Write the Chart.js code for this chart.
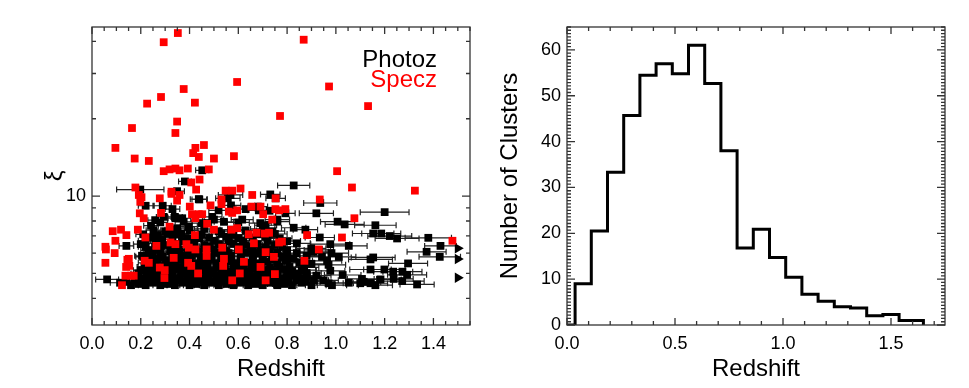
<!DOCTYPE html>
<html>
<head>
<meta charset="utf-8">
<script src="https://cdn.jsdelivr.net/npm/chart.js@4.4.0/dist/chart.umd.min.js"></script>
<style>
  body { margin: 0; background: #fff; width: 969px; height: 388px; position: relative; overflow: hidden; }
  canvas { position: absolute; top: 0; }
  #left { left: 0; }
  #right { left: 484px; }
</style>
</head>
<body>
<canvas id="left" width="484" height="388"></canvas>
<canvas id="right" width="485" height="388"></canvas>
<script>
// spectroscopic redshifts: [z, xi]
const specz = [
  [0.352,43.1],[0.294,39.7],[0.595,27.8],[0.376,26.1],[0.283,24.3],[0.226,22.9],[0.422,23.1],[0.771,20.5],
  [0.349,19.5],[0.164,18.4],[0.342,17.6],[0.096,15.4],[0.459,15.8],[0.424,15.4],[0.415,14.7],[0.438,14.2],
  [0.175,14.0],[0.233,13.7],[0.5,14.0],[0.582,14.3],[0.294,12.5],[0.318,12.7],[0.342,12.8],[0.359,12.6],
  [0.393,12.8],[0.479,12.7],[0.441,11.6],[0.407,11.3],[0.178,10.8],[0.427,10.6],[0.326,10.4],[0.548,10.5],
  [0.575,10.5],[0.609,10.7],[0.868,40.6],[0.972,26.7],[1.132,22.4],[1.005,12.5],[1.066,10.8],[1.324,10.5],
  [0.192,10.1],[0.203,9.9],[0.198,9.5],[0.278,9.8],[0.326,10.2],[0.359,10.1],[0.349,9.6],[0.486,9.2],
  [0.401,9.1],[0.531,9.7],[0.531,9.3],[0.657,10.1],[0.753,9.8],[0.691,9.1],[0.196,8.57],[0.212,8.2],
  [0.283,8.6],[0.424,8.2],[0.452,8.5],[0.41,8.5],[0.438,8.5],[0.472,7.8],[0.561,8.7],[0.595,8.8],
  [0.575,8.6],[0.654,9.1],[0.702,8.5],[0.739,8.1],[0.767,8.8],[0.085,7.3],[0.119,7.4],[0.141,7.05],
  [0.096,6.7],[0.188,7.4],[0.219,6.9],[0.264,6.4],[0.055,6.35],[0.057,6.2],[0.093,6.0],[0.055,5.5],
  [0.151,5.7],[0.153,5.35],[0.318,7.6],[0.322,6.6],[0.342,6.5],[0.387,6.5],[0.397,6.3],[0.422,7.05],
  [0.424,6.2],[0.5,7.4],[0.47,6.2],[0.534,6.3],[0.572,7.4],[0.595,7.5],[0.643,7.1],[0.675,7.2],
  [0.709,7.15],[0.726,7.2],[0.664,6.55],[0.767,6.6],[0.335,5.75],[0.394,5.5],[0.407,5.35],[0.47,5.85],
  [0.541,5.7],[0.602,6.2],[0.623,5.55],[0.712,6.05],[0.746,5.8],[0.691,5.3],[0.538,5.35],[0.216,5.6],
  [0.233,5.5],[0.278,5.27],[0.298,5.15],[0.137,4.9],[0.16,4.9],[0.171,4.9],[0.123,4.5],[0.297,4.8],
  [0.435,5.0],[0.606,5.0],[0.575,4.7],[0.712,4.7],[0.75,4.97],[0.793,8.9],[1.076,8.2],[1.025,6.9],
  [0.882,7.05],[0.93,6.2],[0.871,5.6],[1.478,6.7],[0.934,9.7],[0.752,8.9],[0.779,6.65],[0.14,5.3],
  [0.145,5.65]
];

// photometric redshifts: [z, xi, z error]
const photoz = [
  [0.452,12.6,0.027],[0.381,11.4,0.026],[0.198,10.6,0.097],[0.349,10.45,0.03],[0.827,11.0,0.066],
  [0.438,9.73,0.035],[0.557,9.8,0.05],[0.568,10.1,0.05],[0.731,10.15,0.04],[0.753,9.8,0.04],
  [0.22,9.17,0.03],[0.29,9.17,0.035],[0.33,8.9,0.03],[0.34,8.3,0.03],[0.37,8.2,0.035],[0.44,9.7,0.03],
  [0.519,8.8,0.04],[0.57,9.2,0.04],[0.63,8.9,0.04],[0.68,9.1,0.04],[0.728,8.77,0.045],[0.793,8.57,0.04],
  [0.92,8.57,0.07],[0.936,9.4,0.068],[0.875,7.4,0.05],[0.934,6.9,0.06],
  [0.259,8.06,0.03],[0.242,7.67,0.03],[0.252,7.37,0.03],[0.27,7.05,0.03],[0.288,6.8,0.03],
  [0.294,8.3,0.03],[0.342,8.2,0.03],[0.376,7.94,0.035],[0.329,7.4,0.03],[0.349,7.5,0.03],[0.367,7.15,0.03],
  [0.397,7.6,0.035],[0.39,6.85,0.035],[0.493,8.3,0.04],[0.5,8.1,0.04],[0.541,7.94,0.04],[0.616,8.1,0.045],
  [0.684,8.8,0.045],[0.712,7.7,0.045],[0.76,8.1,0.05],
  [0.141,6.4,0.03],[0.205,5.86,0.03],[0.253,5.35,0.03],[0.062,4.74,0.047],[0.115,4.6,0.04],
  [1.2,8.66,0.1],[1.007,7.95,0.07],[1.036,7.76,0.08],[1.162,7.7,0.085],[0.827,7.53,0.05],[1.153,7.15,0.085],
  [1.186,7.15,0.08],[1.221,6.99,0.09],[1.251,6.84,0.09],[1.379,6.88,0.095],[1.429,6.4,0.065],
  [0.977,6.5,0.08],[1.053,6.4,0.075],[1.372,6.07,0.08],[1.426,5.8,0.085],[1.142,5.67,0.09],[1.153,5.77,0.09],
  [0.899,6.26,0.06],[0.909,6.07,0.06],[0.93,6.17,0.06],[1.296,5.47,0.08],[1.142,5.18,0.085],[1.199,5.18,0.085],
  [1.235,5.08,0.08],[1.273,5.08,0.08],[1.292,4.94,0.08],[1.183,4.74,0.085],[1.237,4.76,0.08],[1.272,4.67,0.09],
  [1.333,4.53,0.07],[1.107,4.76,0.06],[1.114,4.64,0.07],[1.1,4.58,0.07],[1.053,4.6,0.06],[1.142,4.58,0.07],
  [1.162,4.5,0.07],[0.984,4.5,0.06],[0.97,4.58,0.06],[0.95,4.7,0.06],[1.028,4.93,0.075],[0.977,5.12,0.06],
  [1.012,5.8,0.07],[0.97,5.4,0.07],[0.943,5.8,0.06],[0.964,5.6,0.06],[0.826,5.7,0.05],[0.793,5.6,0.05],
  [0.8,5.9,0.05],[0.982,6.0,0.07],
  [0.16,4.5,0.03],[0.19,4.55,0.03],[0.22,4.5,0.03],[0.25,4.6,0.035],[0.28,4.5,0.03],[0.31,4.55,0.035],
  [0.34,4.5,0.035],[0.37,4.6,0.035],[0.4,4.5,0.04],[0.43,4.55,0.035],[0.46,4.5,0.04],[0.49,4.6,0.04],
  [0.52,4.5,0.04],[0.55,4.55,0.045],[0.58,4.5,0.04],[0.61,4.6,0.045],[0.64,4.5,0.045],[0.67,4.55,0.05],
  [0.7,4.5,0.045],[0.73,4.6,0.05],[0.76,4.5,0.05],[0.79,4.55,0.05],[0.82,4.5,0.055],[0.86,4.6,0.06],[0.9,4.5,0.06],
  [0.14,4.65,0.03],[0.175,4.7,0.03],[0.205,4.65,0.03],[0.235,4.7,0.035],[0.265,4.65,0.03],[0.295,4.7,0.035],
  [0.325,4.65,0.035],[0.355,4.7,0.035],[0.385,4.65,0.04],[0.415,4.7,0.035],[0.445,4.65,0.04],[0.475,4.7,0.04],
  [0.505,4.65,0.04],[0.535,4.7,0.045],[0.565,4.65,0.04],[0.595,4.7,0.045],[0.625,4.65,0.045],[0.655,4.7,0.05],
  [0.685,4.65,0.045],[0.715,4.7,0.05],[0.745,4.65,0.05],[0.775,4.7,0.05],[0.805,4.65,0.055],[0.84,4.7,0.06],
  [0.875,4.65,0.06],[0.91,4.7,0.06],
  [0.18,4.85,0.03],[0.21,4.8,0.03],[0.24,4.9,0.03],[0.27,4.8,0.035],[0.3,4.85,0.035],[0.33,4.9,0.03],
  [0.36,4.8,0.035],[0.39,4.85,0.04],[0.42,4.9,0.035],[0.45,4.8,0.04],[0.48,4.85,0.04],[0.51,4.9,0.045],
  [0.54,4.8,0.04],[0.57,4.85,0.045],[0.6,4.9,0.045],[0.63,4.8,0.05],[0.66,4.85,0.045],[0.69,4.9,0.05],
  [0.72,4.8,0.05],[0.75,4.85,0.05],[0.78,4.8,0.055],[0.81,4.9,0.05],[0.85,4.8,0.06],[0.88,4.85,0.06],[0.92,4.9,0.06],
  [0.19,5.0,0.03],[0.225,5.02,0.03],[0.26,4.98,0.035],[0.29,5.02,0.03],[0.325,5.0,0.035],[0.365,5.02,0.035],
  [0.4,4.98,0.04],[0.435,5.02,0.035],[0.47,5.0,0.04],[0.5,5.02,0.04],[0.54,4.98,0.045],[0.575,5.02,0.04],
  [0.61,5.0,0.045],[0.645,5.02,0.045],[0.68,4.98,0.05],[0.72,5.02,0.05],[0.76,5.0,0.05],[0.8,5.02,0.055],
  [0.84,4.98,0.055],[0.88,5.02,0.06],
  [0.2,5.15,0.03],[0.24,5.2,0.03],[0.31,5.1,0.035],[0.35,5.2,0.035],[0.38,5.1,0.035],[0.42,5.2,0.04],
  [0.46,5.15,0.04],[0.49,5.1,0.04],[0.53,5.2,0.045],[0.56,5.1,0.04],[0.6,5.2,0.045],[0.63,5.1,0.05],
  [0.67,5.2,0.045],[0.71,5.15,0.05],[0.74,5.1,0.05],[0.78,5.2,0.055],[0.82,5.1,0.05],[0.86,5.15,0.06],
  [0.215,5.3,0.03],[0.25,5.32,0.03],[0.285,5.28,0.035],[0.33,5.32,0.035],[0.365,5.3,0.035],[0.4,5.28,0.04],
  [0.44,5.32,0.04],[0.475,5.3,0.04],[0.51,5.28,0.045],[0.545,5.32,0.04],[0.58,5.3,0.045],[0.62,5.28,0.045],
  [0.655,5.32,0.05],[0.69,5.3,0.045],[0.73,5.28,0.05],[0.77,5.32,0.05],[0.81,5.3,0.055],[0.87,5.28,0.06],
  [0.22,5.5,0.03],[0.26,5.45,0.03],[0.3,5.5,0.035],[0.34,5.45,0.035],[0.38,5.55,0.035],[0.43,5.45,0.04],
  [0.47,5.5,0.04],[0.51,5.45,0.045],[0.55,5.55,0.04],[0.59,5.45,0.045],[0.64,5.5,0.05],[0.68,5.45,0.045],
  [0.72,5.55,0.05],[0.76,5.45,0.05],[0.85,5.5,0.06],[0.9,5.45,0.06],
  [0.235,5.65,0.03],[0.27,5.68,0.035],[0.315,5.62,0.035],[0.355,5.68,0.035],[0.4,5.65,0.04],[0.445,5.62,0.04],
  [0.49,5.68,0.04],[0.53,5.65,0.045],[0.57,5.62,0.045],[0.61,5.68,0.045],[0.66,5.65,0.05],[0.7,5.62,0.05],
  [0.74,5.68,0.05],[0.8,5.65,0.055],
  [0.21,5.8,0.03],[0.25,5.85,0.03],[0.29,5.8,0.035],[0.33,5.9,0.03],[0.37,5.8,0.035],[0.41,5.85,0.04],
  [0.45,5.8,0.04],[0.49,5.9,0.04],[0.53,5.8,0.045],[0.57,5.85,0.04],[0.61,5.8,0.045],[0.66,5.9,0.05],
  [0.7,5.8,0.05],[0.74,5.85,0.05],[0.78,5.8,0.055],[0.88,5.85,0.06],
  [0.24,6.0,0.03],[0.28,6.02,0.035],[0.35,5.98,0.035],[0.39,6.02,0.035],[0.43,6.0,0.04],[0.47,5.98,0.04],
  [0.52,6.02,0.04],[0.56,6.0,0.045],[0.63,6.02,0.045],[0.67,5.98,0.05],[0.72,6.0,0.05],[0.76,6.02,0.05],[0.84,6.0,0.055],
  [0.23,6.15,0.03],[0.27,6.2,0.03],[0.32,6.1,0.035],[0.36,6.2,0.035],[0.4,6.15,0.035],[0.44,6.1,0.04],
  [0.5,6.2,0.04],[0.55,6.1,0.045],[0.6,6.15,0.045],[0.65,6.2,0.05],[0.69,6.1,0.045],[0.73,6.2,0.05],[0.8,6.15,0.05],
  [0.22,6.35,0.03],[0.28,6.38,0.035],[0.33,6.32,0.035],[0.42,6.35,0.04],[0.48,6.38,0.04],[0.54,6.32,0.045],
  [0.61,6.35,0.045],[0.66,6.38,0.05],[0.71,6.32,0.05],[0.78,6.35,0.055],
  [0.2,6.5,0.03],[0.26,6.55,0.03],[0.3,6.45,0.035],[0.35,6.5,0.035],[0.39,6.55,0.035],[0.46,6.45,0.04],
  [0.52,6.5,0.04],[0.58,6.55,0.045],[0.63,6.45,0.045],[0.68,6.5,0.05],[0.75,6.45,0.05],[0.84,6.55,0.055],
  [0.22,6.7,0.03],[0.27,6.72,0.03],[0.37,6.68,0.035],[0.42,6.72,0.04],[0.5,6.7,0.04],[0.56,6.68,0.045],
  [0.62,6.72,0.045],[0.72,6.7,0.05],[0.8,6.68,0.055],
  [0.24,6.9,0.03],[0.33,6.95,0.03],[0.44,6.85,0.04],[0.48,6.9,0.04],[0.55,6.95,0.04],[0.6,6.85,0.045],
  [0.66,6.9,0.045],[0.71,6.95,0.05],[0.77,6.85,0.05],
  [0.21,7.1,0.03],[0.31,7.12,0.035],[0.36,7.08,0.035],[0.45,7.1,0.04],[0.53,7.12,0.04],[0.58,7.08,0.045],
  [0.68,7.1,0.045],[0.75,7.12,0.05],
  [0.3,7.3,0.03],[0.4,7.35,0.035],[0.46,7.45,0.04],[0.52,7.3,0.04],[0.57,7.4,0.045],[0.63,7.35,0.045],
  [0.7,7.45,0.05],[0.74,7.3,0.05],
  [0.28,7.9,0.03],[0.45,7.85,0.04],[0.6,7.9,0.045],[0.69,7.85,0.045],[0.76,7.95,0.05]
];

// clusters plotted at the right edge (redshift lower limits)
const limitZ = [1.5, 1.5, 1.5];
const limitXi = [6.26, 5.69, 4.81];

const xiTicks = [4, 5, 6, 7, 8, 9, 10, 20, 30, 40];

// histogram of redshifts
const histCenters = [0, 0.075, 0.15, 0.225, 0.3, 0.375, 0.45, 0.525, 0.6, 0.675, 0.75, 0.825,
  0.9, 0.975, 1.05, 1.125, 1.2, 1.275, 1.35, 1.425, 1.5, 1.575, 1.65, 1.65];
const histCounts = [0, 9, 20.5, 33.3, 45.7, 54.5, 57, 54.8, 61, 52.7, 38, 16.8,
  20.9, 14.7, 10.4, 6.7, 5.2, 4.0, 3.7, 2.0, 2.3, 1.0, 1.0, 0];

Chart.defaults.font.family = '"Liberation Sans", Arial, Helvetica, sans-serif';
Chart.defaults.color = '#000';

// box around the plot with inward ticks on all four sides
const framePlugin = {
  id: 'frame',
  afterDatasetsDraw(chart, args, opts) {
    const {ctx, chartArea: a, scales: {x, y}} = chart;
    ctx.save();
    ctx.strokeStyle = '#333';
    ctx.lineWidth = 1.3;
    ctx.strokeRect(a.left, a.top, a.right - a.left, a.bottom - a.top);
    ctx.beginPath();
    opts.xTicks.forEach(([v, major]) => {
      const px = x.getPixelForValue(v), len = major ? 7 : 4;
      ctx.moveTo(px, a.bottom); ctx.lineTo(px, a.bottom - len);
      ctx.moveTo(px, a.top); ctx.lineTo(px, a.top + len);
    });
    opts.yTicks.forEach(([v, major]) => {
      const py = y.getPixelForValue(v), len = major ? 8 : 4;
      ctx.moveTo(a.left, py); ctx.lineTo(a.left + len, py);
      ctx.moveTo(a.right, py); ctx.lineTo(a.right - len, py);
    });
    ctx.stroke();
    ctx.restore();
  }
};

// horizontal error bars for the photo-z points
const errorBarPlugin = {
  id: 'zerr',
  beforeDatasetsDraw(chart) {
    const {ctx, chartArea: a, scales: {x, y}} = chart;
    const ds = chart.data.datasets.find(d => d.label === 'Photoz');
    ctx.save();
    ctx.beginPath();
    ctx.rect(a.left, a.top, a.right - a.left, a.bottom - a.top);
    ctx.clip();
    ctx.strokeStyle = 'rgba(10,10,10,0.9)';
    ctx.lineWidth = 1.2;
    ctx.beginPath();
    ds.data.forEach(p => {
      const x0 = x.getPixelForValue(p.x - p.err), x1 = x.getPixelForValue(p.x + p.err);
      const py = y.getPixelForValue(p.y);
      ctx.moveTo(x0, py); ctx.lineTo(x1, py);
      ctx.moveTo(x0, py - 3); ctx.lineTo(x0, py + 3);
      ctx.moveTo(x1, py - 3); ctx.lineTo(x1, py + 3);
    });
    ctx.stroke();
    ctx.restore();
  }
};

const legendText = {
  id: 'legendText',
  afterDraw(chart) {
    const ctx = chart.ctx;
    ctx.save();
    ctx.font = '24px "Liberation Sans", Arial, sans-serif';
    ctx.textAlign = 'right';
    ctx.textBaseline = 'alphabetic';
    ctx.fillStyle = '#000';
    ctx.fillText('Photoz', 437, 67);
    ctx.fillStyle = '#ff0000';
    ctx.fillText('Specz', 437, 87);
    ctx.restore();
  }
};

const leftX = [];
for (let i = 0; i <= 31; i++) leftX.push([i * 0.05, i % 4 === 0]);
const leftY = xiTicks.map(v => [v, v === 10]);

const noGrid = {display: false, drawTicks: false, tickLength: 0};

new Chart(document.getElementById('left'), {
  type: 'scatter',
  data: {
    datasets: [
      {
        label: 'Specz',
        data: specz.map(p => ({x: p[0], y: p[1]})),
        pointStyle: 'rect', pointRadius: 5.5, borderWidth: 0,
        backgroundColor: '#ff0000', borderColor: '#ff0000'
      },
      {
        label: 'Photoz',
        data: photoz.map(p => ({x: p[0], y: p[1], err: p[2]})),
        pointStyle: 'rect', pointRadius: 5.5, borderWidth: 0,
        backgroundColor: '#000', borderColor: '#000'
      },
      {
        label: 'limits',
        data: limitZ.map((z, i) => ({x: z, y: limitXi[i]})),
        pointStyle: 'triangle', rotation: 90, pointRadius: 6, borderWidth: 0,
        backgroundColor: '#000', borderColor: '#000'
      }
    ]
  },
  options: {
    responsive: false, animation: false, events: [],
    layout: {padding: {left: 0, right: 14, top: 27, bottom: 0}},
    plugins: {
      legend: {display: false}, tooltip: {enabled: false},
      frame: {xTicks: leftX, yTicks: leftY}
    },
    scales: {
      x: {
        type: 'linear', min: 0, max: 1.55,
        afterFit(s) { s.height = 63; },
        grid: noGrid, border: {display: false},
        ticks: {stepSize: 0.2, includeBounds: false, padding: 8, font: {size: 18}, color: '#000',
          callback: v => v.toFixed(1)},
        title: {display: true, text: 'Redshift', font: {size: 24}, color: '#000', padding: {top: 0, bottom: 4}}
      },
      y: {
        type: 'logarithmic', min: 3.15, max: 45.5,
        afterFit(s) { s.width = 92; },
        afterBuildTicks(s) { s.ticks = xiTicks.map(v => ({value: v})); },
        grid: noGrid, border: {display: false},
        ticks: {padding: 6, font: {size: 18}, color: '#000', autoSkip: false,
          callback: v => (v === 10 ? '10' : '')},
        title: {display: true, text: 'ξ', font: {size: 24}, color: '#000', padding: {top: 41, bottom: 0}}
      }
    }
  },
  plugins: [errorBarPlugin, framePlugin, legendText]
});

const rightX = [];
for (let i = 0; i <= 17; i++) rightX.push([i * 0.1, i % 5 === 0]);
const rightY = [];
for (let i = 0; i <= 91; i++) rightY.push([i * 10 / 14, i % 14 === 0]);

new Chart(document.getElementById('right'), {
  type: 'line',
  data: {
    datasets: [{
      label: 'Number of Clusters',
      data: histCenters.map((z, i) => ({x: z, y: histCounts[i]})),
      stepped: 'middle',
      borderColor: '#000', borderWidth: 3, pointRadius: 0, fill: false
    }]
  },
  options: {
    responsive: false, animation: false, events: [],
    layout: {padding: {left: 0, right: 24, top: 27, bottom: 0}},
    plugins: {
      legend: {display: false}, tooltip: {enabled: false},
      frame: {xTicks: rightX, yTicks: rightY}
    },
    scales: {
      x: {
        type: 'linear', min: 0, max: 1.75,
        afterFit(s) { s.height = 63; },
        grid: noGrid, border: {display: false},
        ticks: {stepSize: 0.5, includeBounds: false, padding: 8, font: {size: 18}, color: '#000',
          callback: v => v.toFixed(1)},
        title: {display: true, text: 'Redshift', font: {size: 24}, color: '#000', padding: {top: 0, bottom: 4}}
      },
      y: {
        type: 'linear', min: 0, max: 65,
        afterFit(s) { s.width = 83; },
        grid: noGrid, border: {display: false},
        ticks: {stepSize: 10, includeBounds: false, padding: 6, font: {size: 18}, color: '#000'},
        title: {display: true, text: 'Number of Clusters', font: {size: 24}, color: '#000', padding: {top: 12, bottom: 0}}
      }
    }
  },
  plugins: [framePlugin]
});
</script>
</body>
</html>
